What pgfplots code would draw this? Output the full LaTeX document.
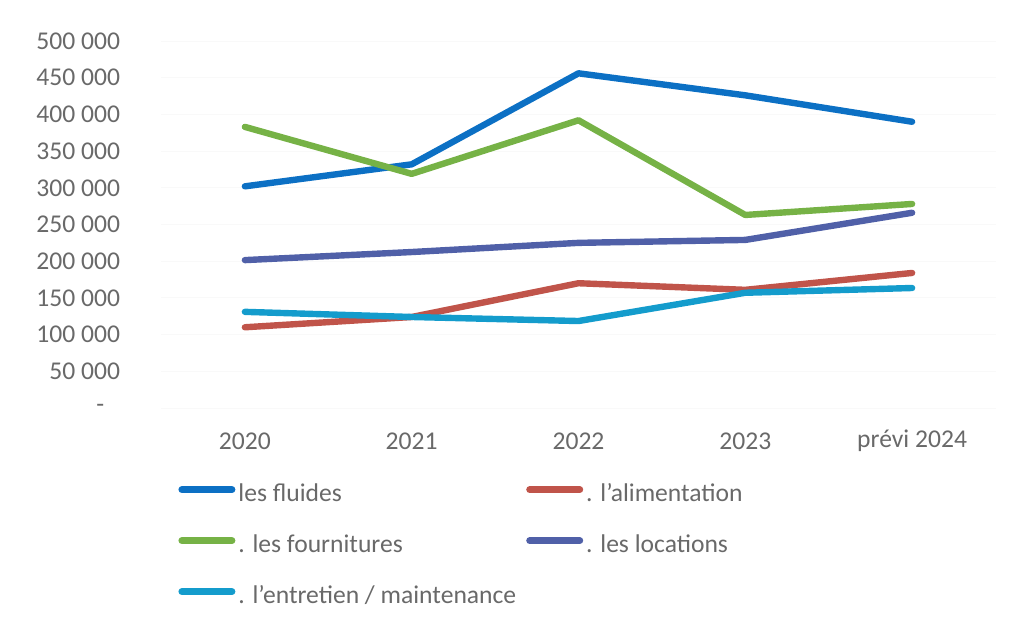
\documentclass[border=0pt]{standalone}
\usepackage{pgfplots}
\pgfplotsset{compat=1.18}
\usepackage{fontspec}
\setmainfont{Carlito}
\definecolor{cfluid}{RGB}{12,112,196}
\definecolor{calim}{RGB}{192,84,74}
\definecolor{cfourn}{RGB}{118,178,70}
\definecolor{cloc}{RGB}{80,96,168}
\definecolor{centr}{RGB}{20,156,204}
\definecolor{ctxt}{RGB}{105,105,105}
\begin{document}
\begin{tikzpicture}
\useasboundingbox (-80.75pt,-110pt) rectangle (425.75pt,204pt);
\begin{axis}[
  at={(0,0)}, anchor=south west,
  scale only axis, width=417pt, height=183.5pt,
  xmin=-0.5, xmax=4.5, ymin=0, ymax=500000,
  scaled y ticks=false,
  axis line style={draw=none},
  major tick length=0pt,
  xtick={0,1,2,3,4},
  xticklabels={2020,2021,2022,2023,prévi 2024},
  ytick={50000,100000,150000,200000,250000,300000,350000,400000,450000,500000},
  yticklabels={50 000,100 000,150 000,200 000,250 000,300 000,350 000,400 000,450 000,500 000},
  extra y ticks={0},
  extra y tick labels={-},
  extra y tick style={yticklabel style={xshift=-8pt}},
  ymajorgrids, grid style={draw=gray!5, line width=0.5pt},
  ticklabel style={font=\fontsize{12.8}{15}\selectfont, text=ctxt},
  yticklabel style={anchor=east, inner sep=0pt, xshift=-20.5pt},
  xticklabel style={anchor=center, inner sep=0pt, yshift=-16.5pt},
  every axis plot/.append style={line width=3.2pt, line join=round, line cap=round},
  legend columns=2,
  legend cell align=left,
  legend style={draw=none, fill=none, at={(0.0198,-0.205)}, anchor=north west,
    font=\fontsize{12.8}{15}\selectfont, text=ctxt, inner sep=0pt,
    nodes={inner sep=0pt, text height=9pt, text depth=3pt},
    row sep=13.5pt,
    /tikz/every odd column/.append style={column sep=1.5pt},
    /tikz/every even column/.append style={column sep=5pt}},
  legend image code/.code={\draw[#1, line width=3.5pt, line cap=round] (0pt,3pt) -- (25pt,3pt);},
]
\addplot[cfluid] coordinates {(0,302000) (1,332000) (2,456000) (3,426000) (4,390000)};
\addlegendentry{les fluides}
\addplot[calim] coordinates {(0,110000) (1,124000) (2,170000) (3,161000) (4,184000)};
\addlegendentry{. l’alimentation}
\addplot[cfourn] coordinates {(0,383000) (1,319000) (2,392000) (3,263000) (4,278000)};
\addlegendentry{. les fournitures}
\addplot[cloc] coordinates {(0,201500) (1,212500) (2,225000) (3,229000) (4,266000)};
\addlegendentry{. les locations}
\addplot[centr] coordinates {(0,131000) (1,124000) (2,118500) (3,157000) (4,163500)};
\addlegendentry{. l’entretien / maintenance}
\end{axis}
\end{tikzpicture}
\end{document}
